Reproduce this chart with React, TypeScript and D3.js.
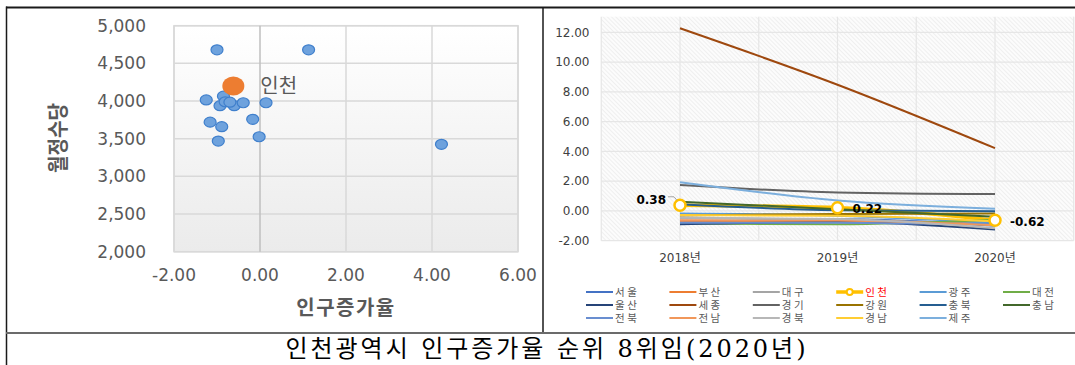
import React from 'react';
import * as d3 from 'd3';

// 시도별 인구증가율(%) 및 지방의원 월정수당(천원)
const regions = ['서울', '부산', '대구', '인천', '광주', '대전', '울산', '세종', '경기', '강원', '충북', '충남', '전북', '전남', '경북', '경남', '제주'];
const regionColors = ['#4472C4', '#ED7D31', '#A5A5A5', '#FFC000', '#5B9BD5', '#70AD47', '#264478', '#9E480E', '#636363', '#997300', '#255E91', '#43682B', '#698ED0', '#F1975A', '#B7B7B7', '#FFCD33', '#7CAFDD'];
const years = ['2018년', '2019년', '2020년'];
const rate2018 = [-0.78, -0.66, -0.48, 0.38, -0.18, -0.85, -0.9, 12.27, 1.74, -0.3, 0.45, 0.62, -0.8, -0.62, -0.45, -0.28, 1.92];
const rate2019 = [-0.55, -0.7, -0.6, 0.22, -0.32, -0.9, -0.75, 8.48, 1.24, -0.2, 0.05, 0.12, -0.8, -0.65, -0.55, -0.32, 0.7];
const rate2020 = [-1.0, -0.85, -0.93, -0.62, -0.81, -0.6, -1.25, 4.22, 1.13, -0.17, -0.02, -0.39, -0.89, -0.97, -1.16, -0.7, 0.14];
const allowance = [4680, 4065, 3938, 4200, 3990, 3938, 4015, 3425, 4680, 3757, 3526, 3977, 3660, 3468, 3720, 3985, 3977];

const scatterXTicks = [-2, 0, 2, 4, 6];
const scatterYTicks = [2000, 2500, 3000, 3500, 4000, 4500, 5000];
const lineYTicks = [-2, 0, 2, 4, 6, 8, 10, 12];
const highlight = '인천';
const caption = '인천광역시 인구증가율 순위 8위임(2020년)';

const locale = d3.formatLocale({ decimal: '.', thousands: ',', grouping: [3], currency: ['', ''], minus: '-' });
const fmt2 = locale.format('.2f');
const fmtComma = locale.format(',');

const GRAY = '#595959';
const NUM_FONT = "'DejaVu Sans', 'Noto Sans CJK KR', sans-serif";
const KR_FONT = "'Noto Sans CJK KR', 'DejaVu Sans', sans-serif";

function ScatterPanel() {
  const x = d3.scaleLinear().domain([-2, 6]).range([174, 518]);
  const y = d3.scaleLinear().domain([2000, 5000]).range([251.7, 25.7]);
  const hi = regions.indexOf(highlight);
  const pts = regions.map((r, i) => ({ r, gx: rate2020[i], ay: allowance[i] }));
  return (
    <g>
      <defs>
        <linearGradient id="plotFade" x1="0" y1="0" x2="0" y2="1">
          <stop offset="0" stopColor="#ffffff" />
          <stop offset="1" stopColor="#ebebeb" />
        </linearGradient>
      </defs>
      <rect x={x(-2)} y={y(5000)} width={x(6) - x(-2)} height={y(2000) - y(5000)} fill="url(#plotFade)" stroke="#d9d9d9" strokeWidth={1.5} />
      {scatterYTicks.map(t => (
        <line key={'gy' + t} x1={x(-2)} x2={x(6)} y1={y(t)} y2={y(t)} stroke="#d9d9d9" strokeWidth={1.5} />
      ))}
      {scatterXTicks.map(t => (
        <line key={'gx' + t} x1={x(t)} x2={x(t)} y1={y(5000)} y2={y(2000)} stroke={t === 0 ? '#bfbfbf' : '#d9d9d9'} strokeWidth={1.5} />
      ))}
      {scatterYTicks.map(t => (
        <text key={'ly' + t} x={146} y={y(t)} dy="0.36em" textAnchor="end" fontFamily={NUM_FONT} fontSize={17} fill={GRAY}>{fmtComma(t)}</text>
      ))}
      {scatterXTicks.map(t => (
        <text key={'lx' + t} x={x(t)} y={281} textAnchor="middle" fontFamily={NUM_FONT} fontSize={17} fill={GRAY}>{fmt2(t)}</text>
      ))}
      <text x={346} y={315} textAnchor="middle" fontFamily={KR_FONT} fontSize={20} fontWeight="bold" fill={GRAY} letterSpacing={1.5}>인구증가율</text>
      <text transform="translate(65,138) rotate(-90)" textAnchor="middle" fontFamily={KR_FONT} fontSize={21} fontWeight="bold" fill={GRAY} textLength={70} lengthAdjust="spacingAndGlyphs">월정수당</text>
      {pts.filter((p, i) => i !== hi).map(p => (
        <ellipse key={p.r} cx={x(p.gx)} cy={y(p.ay)} rx={6} ry={5} fill="#6ea2dd" stroke="#3f7fcc" strokeWidth={1.2} />
      ))}
      <ellipse cx={x(pts[hi].gx)} cy={y(pts[hi].ay)} rx={11} ry={9.5} fill="#ED7D31" />
      <text x={x(pts[hi].gx) + 27} y={y(pts[hi].ay) + 7} fontFamily={KR_FONT} fontSize={20} fill={GRAY}>{highlight}</text>
    </g>
  );
}

function LinePanel() {
  const x = d3.scalePoint().domain(years).range([680, 995]);
  const y = d3.scaleLinear().domain([-2, 12]).range([240.7, 32.3]);
  const step = x.step();
  const left = (x(years[0]) as number) - step / 2;
  const right = (x(years[2]) as number) + step / 2;
  const top = 16.7;
  const bottom = y(-2);
  const series = regions.map((r, i) => ({ r, c: regionColors[i], v: [rate2018[i], rate2019[i], rate2020[i]] }));
  const line = d3.line<number>().x((_, j) => x(years[j]) as number).y(d => y(d)).curve(d3.curveMonotoneX);
  const hi = regions.indexOf(highlight);
  const hs = series[hi];
  const vGrid: number[] = [];
  years.forEach(yr => { vGrid.push((x(yr) as number) - step / 2, x(yr) as number); });
  vGrid.push(right);
  const pt = (j: number) => ({ px: x(years[j]) as number, py: y(hs.v[j]) });
  const p0 = pt(0), p1 = pt(1), p2 = pt(2);

  const legendCols = 6;
  return (
    <g>
      <defs>
        <pattern id="hatch" width={3} height={3} patternUnits="userSpaceOnUse" patternTransform="rotate(-45)">
          <rect width={3} height={3} fill="#fcfcfc" />
          <line x1={0} y1={0} x2={0} y2={3} stroke="#e2e2e2" strokeWidth={1} />
        </pattern>
      </defs>
      <rect x={left} y={top} width={right - left} height={bottom - top} fill="url(#hatch)" />
      {lineYTicks.map(t => (
        <line key={'hy' + t} x1={left} x2={right} y1={y(t)} y2={y(t)} stroke="#e6e6e6" strokeWidth={1.2} />
      ))}
      {vGrid.map((gx, k) => (
        <line key={'vx' + k} x1={gx} x2={gx} y1={top} y2={bottom} stroke="#e6e6e6" strokeWidth={1.2} />
      ))}
      {lineYTicks.map(t => (
        <text key={'ty' + t} x={589.5} y={y(t)} dy="0.36em" textAnchor="end" fontFamily={NUM_FONT} fontSize={12} fill="#404040">{fmt2(t)}</text>
      ))}
      {years.map(yr => (
        <text key={yr} x={x(yr) as number} y={262} textAnchor="middle" fontFamily={NUM_FONT} fontSize={12} fill="#404040">{yr}</text>
      ))}
      {series.map((s, i) => (
        <path key={s.r} d={line(s.v) || ''} fill="none" stroke={s.c} strokeWidth={i === hi ? 3.5 : 2} />
      ))}
      {[p0, p1, p2].map((p, k) => (
        <circle key={'m' + k} cx={p.px} cy={p.py} r={5.5} fill="#ffffff" stroke={hs.c} strokeWidth={2.5} />
      ))}
      <polyline points={`${p0.px - 12},${p0.py - 8.5} ${p0.px - 6},${p0.py - 8.5} ${p0.px - 3},${p0.py - 5}`} fill="none" stroke="#a6a6a6" strokeWidth={1} />
      <text x={p0.px - 14} y={p0.py - 6} dy="0.36em" textAnchor="end" fontFamily={NUM_FONT} fontSize={12} fontWeight="bold" fill="#000">{fmt2(hs.v[0])}</text>
      <text x={p1.px + 15} y={p1.py + 1} dy="0.36em" textAnchor="start" fontFamily={NUM_FONT} fontSize={12} fontWeight="bold" fill="#000">{fmt2(hs.v[1])}</text>
      <text x={p2.px + 15} y={p2.py + 1.5} dy="0.36em" textAnchor="start" fontFamily={NUM_FONT} fontSize={12} fontWeight="bold" fill="#000">{fmt2(hs.v[2])}</text>
      {series.map((s, i) => {
        const col = i % legendCols;
        const row = Math.floor(i / legendCols);
        const lx = 586 + col * 83.4;
        const ly = 292 + row * 13;
        const isHi = i === hi;
        return (
          <g key={'lg' + s.r}>
            <line x1={lx} x2={lx + 27} y1={ly} y2={ly} stroke={s.c} strokeWidth={isHi ? 3.5 : 2} />
            {isHi && <circle cx={lx + 13.5} cy={ly} r={3} fill="#fff" stroke={s.c} strokeWidth={2} />}
            <text x={lx + 29} y={ly} dy="0.36em" fontFamily={KR_FONT} fontSize={10.5} letterSpacing={2.5} fill={isHi ? '#ff0000' : GRAY}>{s.r}</text>
          </g>
        );
      })}
    </g>
  );
}

export default function App() {
  return (
    <div style={{ position: 'fixed', left: 0, top: 0 }}>
      <svg width={1075} height={365} style={{ display: 'block', background: '#fff' }}>
        <ScatterPanel />
        <LinePanel />
        <line x1={6} x2={1075} y1={7.5} y2={7.5} stroke="#1a1a1a" strokeWidth={2} />
        <line x1={6.5} x2={6.5} y1={6.5} y2={365} stroke="#1a1a1a" strokeWidth={1.5} />
        <line x1={543} x2={543} y1={7} y2={333} stroke="#1a1a1a" strokeWidth={1.5} />
        <line x1={6} x2={1075} y1={333} y2={333} stroke="#6b6b6b" strokeWidth={2} />
        <text x={545.5} y={357} textAnchor="middle" fontFamily="'DejaVu Serif', 'Noto Sans CJK KR', serif" fontSize={24} fill="#000" textLength={520} lengthAdjust="spacing">{caption}</text>
      </svg>
    </div>
  );
}
